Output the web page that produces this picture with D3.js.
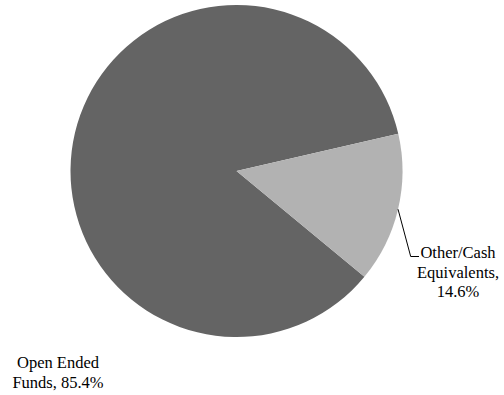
<!DOCTYPE html>
<html>
<head>
<meta charset="utf-8">
<script src="https://cdn.jsdelivr.net/npm/d3@7"></script>
<style>
  html, body { margin: 0; padding: 0; background: #fff; }
  svg { display: block; }
</style>
</head>
<body>
<svg id="chart" width="504" height="395"></svg>
<script>
// Portfolio composition
const categories = ["Open Ended Funds", "Other/Cash Equivalents"];
const values = [85.4, 14.6];
const colors = ["#646464", "#b2b2b2"];
const labelLines = [["Open Ended", "Funds, 85.4%"], ["Other/Cash", "Equivalents,", "14.6%"]];

const svg = d3.select("#chart");
const cx = 236.5, cy = 171, r = 166;

const deg = Math.PI / 180;
const start = 129.6 * deg;
const pie = d3.pie().sort(null).value(d => d).startAngle(start).endAngle(start + 2 * Math.PI);
const arcs = pie(values);
const arc = d3.arc().innerRadius(0).outerRadius(r);

const g = svg.append("g").attr("transform", `translate(${cx},${cy})`);
g.selectAll("path").data(arcs).join("path")
  .attr("d", arc)
  .attr("fill", (d, i) => colors[i]);

// Leader line for the small slice
const small = arcs[1];
const mid = (small.startAngle + small.endAngle) / 2;
const edge = [Math.sin(mid) * r, -Math.cos(mid) * r];
const elbow = [410.7 - cx, 256.5 - cy];
g.append("polyline")
  .attr("points", [edge, elbow, [419 - cx, 256.5 - cy]].map(p => p.join(",")).join(" "))
  .attr("fill", "none")
  .attr("stroke", "#000")
  .attr("stroke-width", 1);

// Labels, one text element per line
const labelPos = [[58, 368], [458, 258]];
const lineGap = 19.5;
labelLines.forEach((lines, i) => {
  svg.append("g").selectAll("text").data(lines).join("text")
    .style("font-family", "'Times New Roman', 'Liberation Serif', Times, serif")
    .style("font-size", "16.5px")
    .attr("fill", "#000")
    .attr("text-anchor", "middle")
    .attr("x", labelPos[i][0])
    .attr("y", (d, j) => labelPos[i][1] + j * lineGap)
    .text(d => d);
});
</script>
</body>
</html>
